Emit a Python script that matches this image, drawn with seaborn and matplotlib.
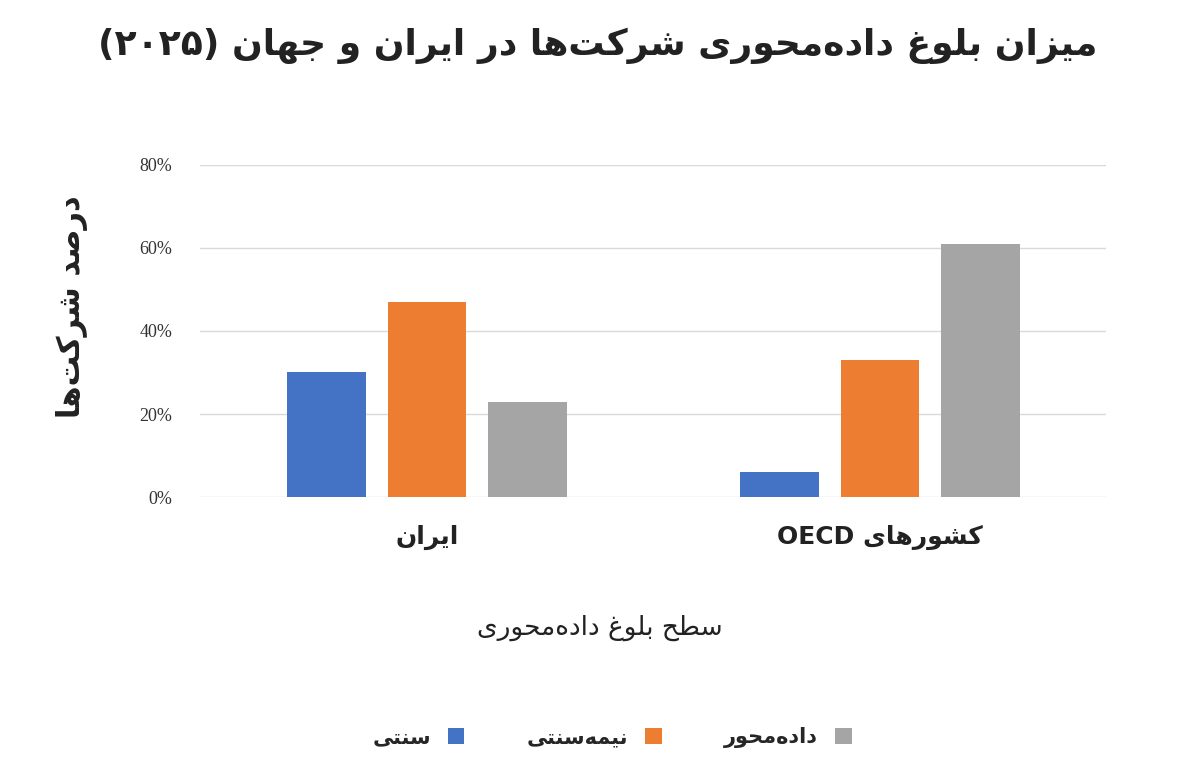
import matplotlib
matplotlib.use("Agg")
import matplotlib.pyplot as plt
import seaborn as sns
import pandas as pd

# ---- minimal Persian shaping (presentation forms) + RTL ordering ----
FORMS = {  # iso, fin, ini, med (None for right-joining)
    'ا': ('\uFE8D', '\uFE8E', None, None),
    'ب': ('\uFE8F', '\uFE90', '\uFE91', '\uFE92'),
    'ت': ('\uFE95', '\uFE96', '\uFE97', '\uFE98'),
    'ج': ('\uFE9D', '\uFE9E', '\uFE9F', '\uFEA0'),
    'ح': ('\uFEA1', '\uFEA2', '\uFEA3', '\uFEA4'),
    'د': ('\uFEA9', '\uFEAA', None, None),
    'ر': ('\uFEAD', '\uFEAE', None, None),
    'ز': ('\uFEAF', '\uFEB0', None, None),
    'س': ('\uFEB1', '\uFEB2', '\uFEB3', '\uFEB4'),
    'ش': ('\uFEB5', '\uFEB6', '\uFEB7', '\uFEB8'),
    'ص': ('\uFEB9', '\uFEBA', '\uFEBB', '\uFEBC'),
    'ط': ('\uFEC1', '\uFEC2', '\uFEC3', '\uFEC4'),
    'غ': ('\uFECD', '\uFECE', '\uFECF', '\uFED0'),
    'ل': ('\uFEDD', '\uFEDE', '\uFEDF', '\uFEE0'),
    'م': ('\uFEE1', '\uFEE2', '\uFEE3', '\uFEE4'),
    'ن': ('\uFEE5', '\uFEE6', '\uFEE7', '\uFEE8'),
    'ه': ('\uFEE9', '\uFEEA', '\uFEEB', '\uFEEC'),
    'و': ('\uFEED', '\uFEEE', None, None),
    'ک': ('\uFB8E', '\uFB8F', '\uFB90', '\uFB91'),
    'ی': ('\uFBFC', '\uFBFD', '\uFBFE', '\uFBFF'),
}

def dual(c):
    return c in FORMS and FORMS[c][2] is not None

def fa(s):
    out = []
    for i, c in enumerate(s):
        if c == '\u200c':
            continue
        if c not in FORMS:
            out.append(c)
            continue
        p = s[i - 1] if i > 0 else ''
        n = s[i + 1] if i + 1 < len(s) else ''
        jp = dual(p)
        jn = dual(c) and n in FORMS
        f = FORMS[c]
        if jp and jn:
            out.append(f[3])
        elif jp:
            out.append(f[1])
        elif jn:
            out.append(f[2])
        else:
            out.append(f[0])
    tokens, buf = [], ''
    for c in out:
        if c.isascii() and c.isalnum() or c in '۰۱۲۳۴۵۶۷۸۹':
            buf += c
        else:
            if buf:
                tokens.append(buf); buf = ''
            tokens.append({'(': ')', ')': '('}.get(c, c))
    if buf:
        tokens.append(buf)
    return ''.join(reversed(tokens))

# ---- data ----
categories = ['ایران', 'کشورهای OECD']
series = ['سنتی', 'نیمه\u200cسنتی', 'داده\u200cمحور']
values_traditional = [30, 6]
values_semi = [47, 33]
values_data = [23, 61]
yticks = [0, 20, 40, 60, 80]
ytick_labels = ['0%', '20%', '40%', '60%', '80%']
colors = ['#4472C4', '#ED7D31', '#A5A5A5']

rows = []
for s, vals in zip(series, [values_traditional, values_semi, values_data]):
    for c, v in zip(categories, vals):
        rows.append({'cat': fa(c), 'series': fa(s), 'val': v})
df = pd.DataFrame(rows)

sns.set_theme(style="white")
plt.rcParams['font.family'] = ['DejaVu Sans']

fig = plt.figure(figsize=(12, 7.66), dpi=100)
ax = fig.add_axes([0.167, 0.351, 0.755, 0.434])
sns.barplot(data=df, x='cat', y='val', hue='series', palette=colors,
            order=[fa(c) for c in categories], hue_order=[fa(s) for s in series],
            width=0.666, gap=0.22, ax=ax, saturation=1, linewidth=0)
ax.set_ylim(0, 80)
ax.set_xlim(-0.5, 1.5)
ax.set_yticks(yticks)
ax.set_yticklabels(ytick_labels, fontfamily='Liberation Serif', fontsize=13, color='#333333')
ax.yaxis.grid(True, color='#D9D9D9', lw=1)
ax.set_axisbelow(True)
for sp in ax.spines.values():
    sp.set_visible(False)
ax.tick_params(axis='x', length=0, pad=20)
ax.tick_params(axis='y', length=0, pad=20)
for lbl in ax.get_xticklabels():
    lbl.set_fontsize(18); lbl.set_fontweight('bold'); lbl.set_color('#222222')
ax.set_xlabel('')
ax.set_ylabel('')

fig.text(0.498, 0.94, fa('میزان بلوغ داده\u200cمحوری شرکت\u200cها در ایران و جهان (۲۰۲۵)'),
         ha='center', va='center', fontsize=26, fontweight='bold', color='#222222')
fig.text(0.06, 0.6, fa('درصد شرکت\u200cها'), rotation=90, ha='center', va='center',
         fontsize=22, fontweight='bold', color='#222222')
fig.text(0.5, 0.18, fa('سطح بلوغ داده\u200cمحوری'), ha='center', va='center',
         fontsize=19, color='#222222')

h, l = ax.get_legend_handles_labels()
ax.legend_.remove()
fig.legend(h, l, loc='center',
           bbox_to_anchor=(0.51, 0.037), ncol=3, frameon=False, markerfirst=False,
           handlelength=0.8, handleheight=0.8, columnspacing=3.0,
           prop={'weight': 'bold', 'size': 15})

fig.savefig('out.png', dpi=100)
